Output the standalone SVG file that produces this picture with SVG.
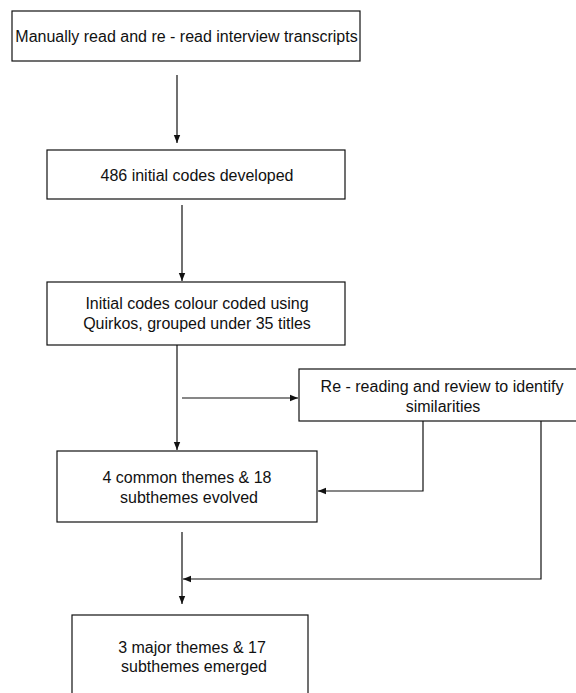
<svg xmlns="http://www.w3.org/2000/svg" width="576" height="693" viewBox="0 0 576 693">
<defs>
<marker id="ah" markerWidth="8" markerHeight="8" refX="8" refY="4" orient="auto" markerUnits="userSpaceOnUse">
<path d="M0,0.8 L8,4 L0,7.2 Z" fill="#111"/>
</marker>
<style>
.box{fill:#fff;stroke:#111;stroke-width:1.2}
.t{font-family:"Liberation Sans",Arial,sans-serif;font-size:16px;fill:#111;text-anchor:middle}
.c{fill:none;stroke:#111;stroke-width:1.2}
</style>
</defs>
<rect width="576" height="693" fill="#fff"/>
<g id="n1"><rect class="box" x="12" y="11" width="348" height="50"/><text class="t" x="186.5" y="42">Manually read and re - read interview transcripts</text></g>
<g id="n2"><rect class="box" x="47" y="150" width="298" height="49"/><text class="t" x="197" y="181">486 initial codes developed</text></g>
<g id="n3"><rect class="box" x="47" y="282" width="298" height="63"/><text class="t" x="197" y="309">Initial codes colour coded using</text><text class="t" x="197" y="329">Quirkos, grouped under 35 titles</text></g>
<g id="n4"><rect class="box" x="299" y="369" width="290" height="52"/><text class="t" x="442" y="392">Re - reading and review to identify</text><text class="t" x="443" y="412">similarities</text></g>
<g id="n5"><rect class="box" x="57" y="451" width="260" height="71"/><text class="t" x="187" y="483">4 common themes &amp; 18</text><text class="t" x="189" y="503">subthemes evolved</text></g>
<g id="n6"><rect class="box" x="72" y="615" width="236" height="90"/><text class="t" x="192" y="653">3 major themes &amp; 17</text><text class="t" x="194" y="672">subthemes emerged</text></g>
<g id="connectors">
<line class="c" x1="177" y1="75" x2="177" y2="143" marker-end="url(#ah)"/>
<line class="c" x1="182" y1="205" x2="182" y2="281" marker-end="url(#ah)"/>
<line class="c" x1="177" y1="345" x2="177" y2="450" marker-end="url(#ah)"/>
<line class="c" x1="182" y1="398" x2="298" y2="398" marker-end="url(#ah)"/>
<polyline class="c" points="423,421 423,491 318,491" marker-end="url(#ah)"/>
<polyline class="c" points="541,421 541,579 183,579" marker-end="url(#ah)"/>
<line class="c" x1="182" y1="532" x2="182" y2="604" marker-end="url(#ah)"/>
</g>
</svg>
